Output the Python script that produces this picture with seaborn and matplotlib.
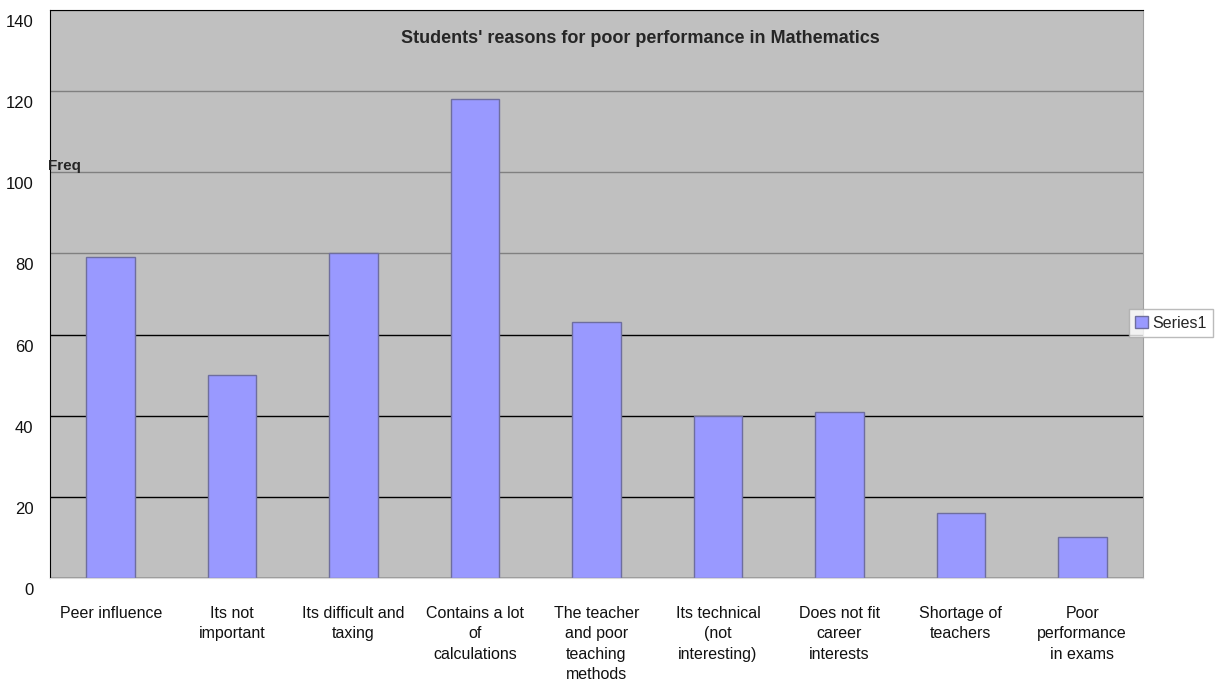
import matplotlib
matplotlib.use('Agg')
import matplotlib.pyplot as plt
import matplotlib.transforms as mtransforms
import seaborn as sns
import pandas as pd
from matplotlib.patches import Patch

# dados
razoes = ['Peer influence', 'Its not\nimportant', 'Its difficult and\ntaxing',
          'Contains a lot\nof\ncalculations', 'The teacher\nand poor\nteaching\nmethods',
          'Its technical\n(not\ninteresting)', 'Does not fit\ncareer\ninterests',
          'Shortage of\nteachers', 'Poor\nperformance\nin exams']
freq = [79, 50, 80, 118, 63, 40, 41, 16, 10]

df = pd.DataFrame({'Razao': razoes, 'Freq': freq})

sns.set_style('white')
plt.rcParams['font.family'] = ['Liberation Sans', 'DejaVu Sans']

fig = plt.figure(figsize=(12.15, 6.8), dpi=100)
ax = fig.add_axes([50 / 1215, 102 / 680, 1093 / 1215, 568 / 680])
ax.set_facecolor('#C0C0C0')

sns.barplot(x='Razao', y='Freq', data=df, color='#9999FF', width=0.4,
            edgecolor='#6E6E9E', linewidth=1, saturation=1, ax=ax)

ax.set_ylim(0, 140)
ax.set_xlim(-0.5, len(razoes) - 0.5)
ax.set_yticks(range(0, 141, 20))
ax.tick_params(axis='y', labelsize=12, length=4, pad=8, colors='#111111')
ax.tick_params(axis='x', labelsize=11.5, length=0, pad=20, colors='#111111')
ax.set_xticks(range(len(razoes)))
ax.set_xticklabels(razoes, linespacing=1.45)
ax.set_xticks([i + 0.5 for i in range(len(razoes))], minor=True)
ax.tick_params(axis='x', which='minor', length=5, color='#999999', direction='out')
ax.set_xlabel('')
ax.set_ylabel('')

# rótulos do eixo y um pouco abaixo das linhas, como no original
desloca = mtransforms.ScaledTranslation(0, -11 / 100, fig.dpi_scale_trans)
for rot in ax.get_yticklabels():
    rot.set_transform(rot.get_transform() + desloca)

ax.yaxis.grid(True, linewidth=1)
ax.set_axisbelow(True)
for i, linha in enumerate(ax.get_ygridlines()):
    linha.set_color('black' if i <= 3 else '#808080')

for lado in ['left', 'top']:
    ax.spines[lado].set_color('black')
ax.spines['right'].set_color('#A0A0A0')
ax.spines['bottom'].set_color('#D8D8D8')

ax.text(0.54, 0.95, "Students' reasons for poor performance in Mathematics",
        transform=ax.transAxes, ha='center', va='center', fontsize=13, fontweight='bold')
ax.text(-0.002, 0.726, 'Freq', transform=ax.transAxes, ha='left', va='center',
        fontsize=11, fontweight='bold')

leg = fig.legend(handles=[Patch(facecolor='#9999FF', edgecolor='#6E6E9E')], labels=['Series1'],
                 loc='center', bbox_to_anchor=(1171 / 1215, 1 - 323 / 680), frameon=True,
                 fancybox=False, edgecolor='#AAAAAA', fontsize=11.5, handlelength=0.8,
                 handleheight=0.8, handletextpad=0.3, borderpad=0.4, borderaxespad=0)
leg.get_frame().set_linewidth(1)

fig.savefig('out.png', dpi=100)
